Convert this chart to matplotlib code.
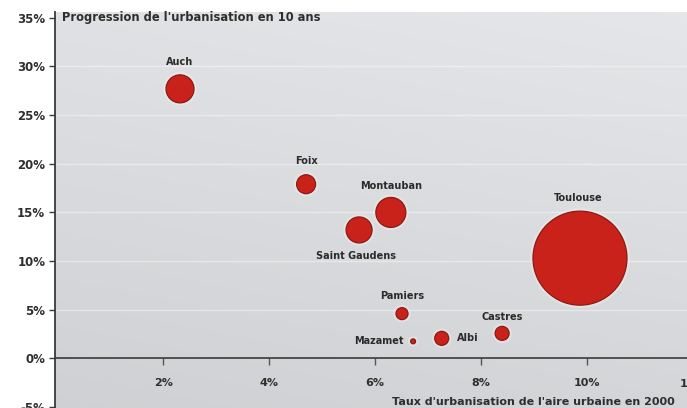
import numpy as np
import matplotlib
matplotlib.use("Agg")
import matplotlib.pyplot as plt

# Aires urbaines de Midi-Pyrénées
villes = ["Auch", "Foix", "Montauban", "Saint Gaudens", "Toulouse",
          "Pamiers", "Mazamet", "Albi", "Castres"]
# Taux d'urbanisation de l'aire urbaine en 2000 (%)
taux_2000 = [2.32, 4.70, 6.30, 5.70, 9.87, 6.51, 6.72, 7.26, 8.40]
# Progression de l'urbanisation en 10 ans (%)
progression = [27.7, 17.9, 15.0, 13.2, 10.3, 4.6, 1.75, 2.06, 2.57]
# Poids relatif de chaque aire (surface de la bulle)
poids = [196, 90, 225, 169, 2209, 36, 6, 49, 49]

yticks = [-5, 0, 5, 10, 15, 20, 25, 30, 35]
xticks = [2, 4, 6, 8, 10]

W, H = 687, 408
fig = plt.figure(figsize=(W / 100, H / 100), dpi=100)
fig.patch.set_facecolor("white")
ax = fig.add_axes([55 / W, 0, (W - 55) / W, (H - 12) / H])
xlim = (-0.04, 11.89)
ylim = (-5.1, 35.6)
ax.set_xlim(*xlim)
ax.set_ylim(*ylim)

# Grey shaded background
ny, nx = 200, 300
v = np.linspace(0, 1, ny)[:, None]   # 0 top -> 1 bottom
h = np.linspace(0, 1, nx)[None, :]   # 0 left -> 1 right
lum = 0.885 - 0.065 * v + 0.02 * h
rgb = np.dstack([lum - 0.01, lum - 0.002, lum + 0.008])
ax.imshow(np.clip(rgb, 0, 1), extent=[xlim[0], xlim[1], ylim[0], ylim[1]],
          aspect="auto", zorder=0, interpolation="bilinear")

# Faint light horizontal guides
for yv in [5, 10, 15, 20, 25, 30]:
    ax.axhline(yv, color="white", lw=1.0, alpha=0.4, zorder=1)

# Axes lines
for side in ["top", "right"]:
    ax.spines[side].set_visible(False)
ax.spines["left"].set_color("#3a3a3a")
ax.spines["left"].set_linewidth(1.3)
ax.spines["bottom"].set_position(("data", 0))
ax.spines["bottom"].set_color("#3a3a3a")
ax.spines["bottom"].set_linewidth(1.2)

lab_font = ["DejaVu Sans"]

ax.set_yticks(yticks)
ax.set_yticklabels([f"{t}%" for t in yticks])
ax.set_xticks(xticks)
ax.set_xticklabels([f"{t}%" for t in xticks])
ax.tick_params(axis="y", direction="out", length=4, width=1, color="#3a3a3a",
               pad=3, labelsize=8.5, labelcolor="#2e2e2e")
ax.tick_params(axis="x", direction="out", length=5, width=1, color="#555555",
               pad=9, labelsize=8, labelcolor="#2e2e2e")
for lbl in ax.get_yticklabels() + ax.get_xticklabels():
    lbl.set_fontfamily(lab_font)
    lbl.set_fontweight("bold")
ax.text(12, -2.6, "12%", ha="center", va="center", fontsize=8,
        fontweight="bold", color="#2e2e2e", family=lab_font, clip_on=False)

# Bubbles: soft light halo, then red disc
sizes = np.array(poids) * 1.44 ** 2
ax.scatter(taux_2000, progression, s=sizes, color="none",
           edgecolors="white", linewidths=4, alpha=0.25, zorder=3)
ax.scatter(taux_2000, progression, s=sizes, color="#c9221b",
           edgecolors="#8c1a12", linewidths=0.9, zorder=4)

# City labels (offsets in points)
offsets = {
    "Auch": ((0, 19), "center"),
    "Foix": ((0, 17), "center"),
    "Montauban": ((0, 19), "center"),
    "Saint Gaudens": ((-2, -19), "center"),
    "Toulouse": ((-1, 43), "center"),
    "Pamiers": ((0, 13), "center"),
    "Mazamet": ((-7, 0), "right"),
    "Albi": ((11, 0), "left"),
    "Castres": ((0, 12), "center"),
}
for nom, xv, yv in zip(villes, taux_2000, progression):
    (dx, dy), ha = offsets[nom]
    ax.annotate(nom, (xv, yv), xytext=(dx, dy), textcoords="offset points",
                ha=ha, va="center", fontsize=7, fontweight="bold",
                color="#2a2a2a", family=lab_font, zorder=5)

# Axis titles
fig.text(62 / W, 1 - 18 / H, "Progression de l'urbanisation en 10 ans",
         ha="left", va="center", fontsize=8.3, fontweight="bold",
         color="#2e2e2e", family=lab_font)
fig.text(392 / W, 1 - 402 / H, "Taux d'urbanisation de l'aire urbaine en 2000",
         ha="left", va="center", fontsize=8.0, fontweight="bold",
         color="#2e2e2e", family=lab_font)

fig.savefig("out.png", dpi=100)
